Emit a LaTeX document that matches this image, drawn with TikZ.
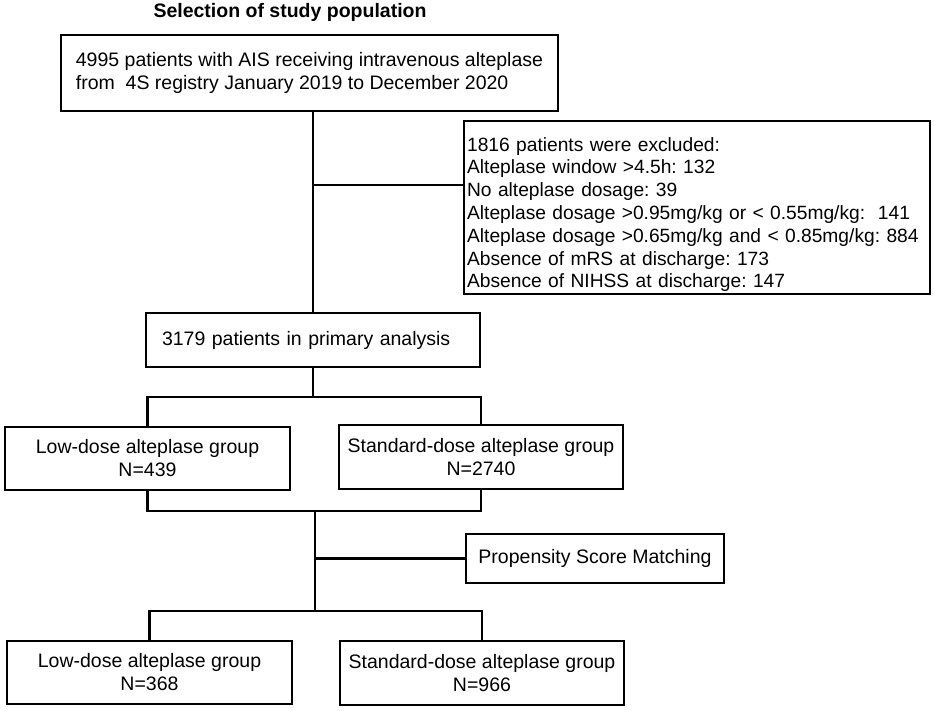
\documentclass[tikz,border=0pt]{standalone}
\usepackage{fontspec}
\setmainfont{Liberation Sans}
\frenchspacing
\begin{document}
\begin{tikzpicture}[x=1pt,y=-1pt,
  txt/.style={font=\fontsize{19.5}{23}\selectfont},
  box/.style={draw, line width=2.2pt, inner sep=0pt, txt},
  conn/.style={line width=2.2pt}]
\useasboundingbox[fill=white] (0,0) rectangle (935,710);
\node[txt, font=\fontsize{19.5}{23}\selectfont\bfseries] (title) at (290,12) {Selection of study population};
\node[box, minimum width=497pt, minimum height=76pt, align=left] (all) at (309.5,73)
  {4995 patients with AIS receiving intravenous alteplase\\from\ \ 4S registry January 2019 to December 2020};
\node[box, font=\fontsize{19.2}{22.8}\selectfont, anchor=north west, text width=460pt, inner xsep=3pt, inner ysep=2pt, align=left] (excl) at (463,120)
  {\rule{0pt}{28pt}1816 patients were excluded:\\
   Alteplase window >4.5h: 132\\
   No alteplase dosage: 39\\
   Alteplase dosage >0.95mg/kg or < 0.55mg/kg:\ \ 141\\
   Alteplase dosage >0.65mg/kg and < 0.85mg/kg: 884\\
   Absence of mRS at discharge: 173\\
   Absence of NIHSS at discharge: 147};
\node[box, text width=302pt, inner xsep=16pt, minimum height=54pt, align=left] (prim) at (313,340)
  {3179 patients in primary analysis};
\node[box, minimum width=285pt, minimum height=63pt, align=center] (low1) at (147.5,458.5)
  {Low-dose alteplase group\\N=439};
\node[box, minimum width=284pt, minimum height=64pt, align=center] (std1) at (481,457)
  {Standard-dose alteplase group\\N=2740};
\node[box, minimum width=258pt, minimum height=49pt] (psm) at (595,558.5)
  {Propensity Score Matching};
\node[box, minimum width=285pt, minimum height=63pt, align=center] (low2) at (149.5,672.5)
  {Low-dose alteplase group\\N=368};
\node[box, minimum width=284pt, minimum height=64pt, align=center] (std2) at (482,673)
  {Standard-dose alteplase group\\N=966};
\coordinate (b1) at (313,185);
\coordinate (s1) at (313,397);
\coordinate (j1) at (315,511);
\coordinate (s2) at (315,611);
\draw[conn] (prim.north |- all.south) -- (prim.north);
\draw[conn] (b1) -- (b1 -| excl.west);
\draw[conn] (prim.south) -- (s1);
\draw[conn] (low1.north) -- (low1.north |- s1) -- (std1.north |- s1) -- (std1.north);
\draw[conn] (low1.south) -- (low1.south |- j1) -- (std1.south |- j1) -- (std1.south);
\draw[conn] (j1) -- (s2);
\draw[conn] (j1 |- psm.west) -- (psm.west);
\draw[conn] (low2.north) -- (low2.north |- s2) -- (std2.north |- s2) -- (std2.north);
\end{tikzpicture}
\end{document}
